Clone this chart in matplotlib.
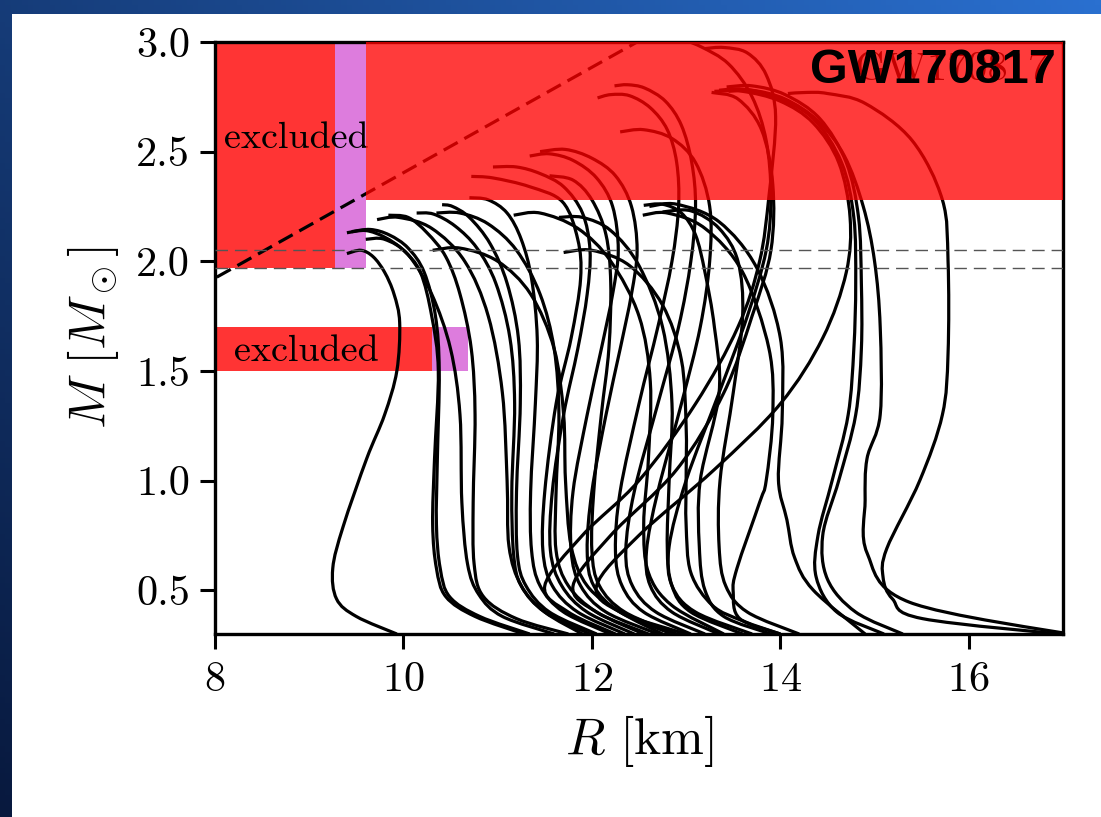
import numpy as np
import matplotlib
matplotlib.use('Agg')
import matplotlib.pyplot as plt
from matplotlib.patches import Rectangle, PathPatch
from matplotlib.path import Path

plt.rcParams['font.family'] = 'cmr10'
plt.rcParams['mathtext.fontset'] = 'cm'
plt.rcParams['axes.formatter.use_mathtext'] = True

# mass-radius curves, one (R, M) list per equation of state
eos_R = [
    [9.93, 9.50, 9.29, 9.25, 9.36, 9.61, 9.80, 9.93, 9.96, 9.90, 9.80, 9.68, 9.55, 9.40],
    [11.34, 10.81, 10.49, 10.39, 10.35, 10.36, 10.38, 10.34, 10.22, 10.05, 9.85, 9.65, 9.45],
    [11.28, 10.76, 10.45, 10.35, 10.31, 10.33, 10.37, 10.30, 10.18, 10.00, 9.80, 9.60, 9.40],
    [11.75, 11.20, 10.85, 10.75, 10.74, 10.76, 10.72, 10.60, 10.45, 10.25, 10.05, 9.84],
    [11.98, 11.50, 11.25, 11.17, 11.15, 11.18, 11.13, 10.98, 10.78, 10.55, 10.32, 10.14],
    [12.05, 11.55, 11.30, 11.21, 11.20, 11.24, 11.22, 11.10, 10.92, 10.70, 10.52, 10.41],
    [11.90, 11.50, 11.25, 11.12, 11.10, 11.05, 10.90, 10.65, 10.30, 9.95, 9.72],
    [12.20, 11.70, 11.45, 11.36, 11.35, 11.40, 11.42, 11.36, 11.25, 11.10, 10.90, 10.70],
    [12.35, 11.85, 11.58, 11.48, 11.50, 11.62, 11.78, 11.88, 11.85, 11.69, 11.34, 10.95, 10.72],
    [12.45, 11.95, 11.68, 11.56, 11.58, 11.70, 11.85, 11.95, 11.98, 11.90, 11.70, 11.45, 11.20, 10.95],
    [12.70, 12.15, 11.88, 11.78, 11.80, 11.95, 12.10, 12.22, 12.28, 12.22, 12.05, 11.80, 11.55, 11.34],
    [12.85, 12.30, 12.02, 11.95, 12.00, 12.15, 12.30, 12.42, 12.48, 12.42, 12.25, 12.00, 11.72, 11.45],
    [12.90, 12.35, 12.08, 12.00, 12.02, 12.10, 12.18, 12.20, 12.15, 12.00, 11.80, 11.55],
    [12.75, 12.30, 11.95, 11.78, 11.72, 11.70, 11.60, 11.35, 11.00, 10.60, 10.31],
    [13.40, 12.85, 12.60, 12.55, 12.60, 12.62, 12.50, 12.20, 11.85, 11.45, 11.17],
    [14.00, 13.60, 13.28, 13.05, 13.00, 13.00, 13.00, 12.95, 12.75, 12.40, 12.00, 11.70],
    [13.05, 12.55, 12.32, 12.25, 12.30, 12.50, 12.70, 12.85, 12.92, 12.90, 12.80, 12.62, 12.40, 12.20, 12.06],
    [13.20, 12.68, 12.43, 12.36, 12.45, 12.70, 12.92, 13.05, 13.10, 13.06, 12.95, 12.78, 12.56, 12.38, 12.24],
    [13.90, 13.40, 13.20, 13.14, 13.15, 13.35, 13.30, 13.20, 13.10, 12.95, 12.75, 12.55],
    [14.00, 13.57, 13.50, 13.54, 13.78, 13.85, 13.92, 13.88, 13.60, 13.20, 12.80, 12.54],
    [14.90, 14.35, 14.15, 14.07, 13.98, 14.02, 14.00, 13.75, 13.35, 12.90, 12.61],
    [13.60, 13.05, 12.85, 12.82, 13.00, 13.35, 13.65, 13.85, 13.90, 13.85, 13.70, 13.45, 13.15, 12.90],
    [12.25, 11.75, 11.50, 11.90, 12.50, 13.10, 13.55, 13.78, 13.88, 13.95, 13.85, 13.65, 13.40, 13.20],
    [12.60, 12.05, 11.80, 12.20, 12.90, 13.40, 13.70, 13.90, 13.92, 13.80, 13.55, 13.27],
    [13.00, 12.30, 12.05, 12.50, 13.30, 14.00, 14.45, 14.70, 14.74, 14.62, 14.35, 14.00, 13.60, 13.30],
    [15.10, 14.60, 14.38, 14.40, 14.55, 14.72, 14.78, 14.80, 14.78, 14.65, 14.35, 13.95, 13.60, 13.35],
    [15.30, 14.80, 14.50, 14.45, 14.62, 14.80, 14.86, 14.86, 14.83, 14.70, 14.42, 14.05, 13.70, 13.43],
    [17.20, 15.37, 14.92, 14.90, 14.92, 15.06, 15.06, 15.00, 14.88, 14.68, 14.40, 14.05, 13.70, 13.45],
    [17.20, 15.51, 15.19, 15.09, 15.13, 15.48, 15.72, 15.78, 15.78, 15.72, 15.40, 14.90, 14.50, 14.28, 14.08],
    [13.70, 13.10, 12.85, 12.80, 12.82, 12.85, 12.75, 12.50, 12.20, 11.90, 11.65],
    [14.20, 13.65, 13.42, 13.35, 13.36, 13.50, 13.60, 13.55, 13.35, 13.05, 12.75],
    [11.60, 11.05, 10.80, 10.68, 10.62, 10.60, 10.50, 10.30, 10.05, 9.80, 9.60],
    [12.55, 12.05, 11.75, 11.62, 11.62, 11.65, 11.60, 11.45, 11.20, 10.90, 10.60, 10.35],
    [13.35, 12.85, 12.62, 12.58, 12.70, 12.95, 13.15, 13.25, 13.25, 13.10, 12.85, 12.55, 12.30],
]
eos_M = [
    [0.30, 0.38, 0.46, 0.60, 0.79, 1.10, 1.30, 1.50, 1.72, 1.85, 1.95, 2.02, 2.05, 2.035],
    [0.30, 0.38, 0.47, 0.60, 0.80, 1.10, 1.50, 1.75, 1.95, 2.06, 2.12, 2.145, 2.135],
    [0.30, 0.38, 0.47, 0.60, 0.80, 1.10, 1.50, 1.75, 1.95, 2.05, 2.11, 2.14, 2.13],
    [0.30, 0.37, 0.47, 0.62, 0.90, 1.30, 1.60, 1.85, 2.02, 2.13, 2.20, 2.21],
    [0.30, 0.40, 0.52, 0.66, 0.95, 1.35, 1.65, 1.90, 2.06, 2.16, 2.215, 2.22],
    [0.30, 0.40, 0.52, 0.66, 0.95, 1.35, 1.65, 1.90, 2.08, 2.20, 2.25, 2.258],
    [0.30, 0.40, 0.52, 0.70, 1.00, 1.40, 1.75, 2.00, 2.15, 2.20, 2.19],
    [0.30, 0.40, 0.52, 0.68, 0.95, 1.35, 1.65, 1.92, 2.10, 2.22, 2.28, 2.29],
    [0.30, 0.40, 0.52, 0.68, 0.95, 1.35, 1.65, 1.92, 2.10, 2.27, 2.34, 2.38, 2.387],
    [0.30, 0.40, 0.52, 0.68, 0.95, 1.30, 1.60, 1.85, 2.05, 2.22, 2.34, 2.40, 2.43, 2.43],
    [0.30, 0.40, 0.52, 0.68, 0.95, 1.30, 1.60, 1.85, 2.05, 2.25, 2.38, 2.46, 2.49, 2.48],
    [0.30, 0.40, 0.52, 0.68, 0.95, 1.30, 1.60, 1.85, 2.05, 2.25, 2.39, 2.47, 2.51, 2.50],
    [0.30, 0.40, 0.52, 0.68, 0.95, 1.30, 1.60, 1.90, 2.12, 2.28, 2.37, 2.39],
    [0.30, 0.40, 0.52, 0.70, 1.00, 1.30, 1.60, 1.85, 2.00, 2.06, 2.05],
    [0.30, 0.43, 0.58, 0.80, 1.10, 1.45, 1.75, 2.00, 2.15, 2.22, 2.21],
    [0.30, 0.36, 0.43, 0.58, 0.80, 1.00, 1.25, 1.55, 1.80, 1.98, 2.05, 2.04],
    [0.30, 0.40, 0.52, 0.68, 0.95, 1.35, 1.70, 2.00, 2.25, 2.45, 2.60, 2.70, 2.755, 2.76, 2.745],
    [0.30, 0.40, 0.52, 0.68, 0.95, 1.35, 1.70, 2.00, 2.25, 2.45, 2.62, 2.73, 2.79, 2.805, 2.80],
    [0.30, 0.38, 0.50, 0.70, 1.00, 1.40, 1.70, 1.95, 2.12, 2.22, 2.26, 2.255],
    [0.30, 0.37, 0.49, 0.60, 0.90, 1.00, 1.30, 1.60, 1.95, 2.15, 2.22, 2.21],
    [0.30, 0.50, 0.65, 0.82, 1.00, 1.30, 1.65, 1.97, 2.18, 2.26, 2.25],
    [0.30, 0.40, 0.52, 0.70, 1.00, 1.40, 1.75, 2.05, 2.30, 2.55, 2.75, 2.90, 2.98, 3.02],
    [0.30, 0.40, 0.52, 0.75, 1.00, 1.35, 1.70, 2.00, 2.30, 2.66, 2.85, 2.95, 2.975, 2.97],
    [0.30, 0.40, 0.52, 0.75, 1.05, 1.40, 1.75, 2.05, 2.35, 2.60, 2.74, 2.77],
    [0.30, 0.40, 0.52, 0.75, 1.05, 1.35, 1.65, 1.95, 2.20, 2.45, 2.63, 2.73, 2.775, 2.775],
    [0.30, 0.40, 0.56, 0.75, 1.00, 1.30, 1.60, 1.90, 2.20, 2.45, 2.65, 2.75, 2.785, 2.78],
    [0.30, 0.40, 0.55, 0.75, 1.00, 1.30, 1.60, 1.90, 2.20, 2.45, 2.65, 2.76, 2.80, 2.795],
    [0.29, 0.445, 0.67, 0.91, 1.10, 1.30, 1.70, 2.00, 2.25, 2.48, 2.64, 2.74, 2.78, 2.775],
    [0.29, 0.37, 0.46, 0.56, 0.69, 1.00, 1.30, 1.58, 2.00, 2.28, 2.55, 2.72, 2.765, 2.77, 2.765],
    [0.30, 0.40, 0.52, 0.70, 1.00, 1.35, 1.70, 1.98, 2.14, 2.20, 2.20],
    [0.30, 0.40, 0.52, 0.70, 1.00, 1.40, 1.75, 2.00, 2.15, 2.23, 2.225],
    [0.30, 0.38, 0.48, 0.62, 0.90, 1.30, 1.60, 1.85, 2.03, 2.10, 2.10],
    [0.30, 0.40, 0.52, 0.68, 0.95, 1.30, 1.60, 1.85, 2.05, 2.17, 2.22, 2.22],
    [0.30, 0.40, 0.52, 0.68, 0.95, 1.35, 1.70, 2.00, 2.25, 2.45, 2.56, 2.60, 2.59],
]

# constraint boxes: (R_min, R_max, M_min, M_max)
excl_red = [(8.0, 9.27, 1.97, 3.0), (8.0, 10.30, 1.50, 1.70)]
excl_violet = [(9.27, 9.60, 1.97, 3.0), (10.30, 10.68, 1.50, 1.70)]
gw_box = (9.60, 17.0, 2.28, 3.0)
causal_R = [7.8, 13.0]
causal_M = [1.875, 3.125]
psr_M = [1.97, 2.05]


def smooth_path(R, M):
    # cubic Bezier through the read points (Catmull-Rom tangents)
    p = np.column_stack([R, M])
    ext = np.vstack([p[0], p, p[-1]])
    verts = [p[0]]
    codes = [Path.MOVETO]
    for i in range(len(p) - 1):
        c1 = p[i] + (ext[i + 2] - ext[i]) / 6
        c2 = p[i + 1] - (ext[i + 3] - ext[i + 1]) / 6
        verts += [c1, c2, p[i + 1]]
        codes += [Path.CURVE4] * 3
    return Path(verts, codes)


W, H = 1101, 817
fig = plt.figure(figsize=(W / 100, H / 100), dpi=100)

# slide background: blue frame on the left and top, white page
bg = fig.add_axes([0, 0, 1, 1], zorder=-10)
bg.axis('off')
xx, yy = np.meshgrid(np.linspace(0, 1, 200), np.linspace(0, 1, 150))
t = 0.6 * xx + 0.4 * (1 - yy)
dark = np.array([8, 25, 62]) / 255
light = np.array([42, 112, 208]) / 255
img = dark + t[..., None] * (light - dark)
bg.imshow(img, extent=[0, 1, 0, 1], aspect='auto', origin='upper')
bg.set_xlim(0, 1)
bg.set_ylim(0, 1)
fig.patches.append(Rectangle((12 / W, 0), 1, 1 - 14 / H, transform=fig.transFigure,
                             facecolor='white', edgecolor='none', zorder=-5))

ax = fig.add_axes([215 / W, 1 - 634 / H, 848 / W, 592 / H])
ax.set_facecolor('white')

for (r0, r1, m0, m1) in excl_red:
    ax.add_patch(Rectangle((r0, m0), r1 - r0, m1 - m0, facecolor='#ff3434',
                           edgecolor='none', zorder=1))
for (r0, r1, m0, m1) in excl_violet:
    ax.add_patch(Rectangle((r0, m0), r1 - r0, m1 - m0, facecolor='#dd7cdd',
                           edgecolor='none', zorder=1))

for R, M in zip(eos_R, eos_M):
    ax.add_patch(PathPatch(smooth_path(R, M), facecolor='none', edgecolor='black',
                           lw=2.3, zorder=2))

ax.plot(causal_R, causal_M, color='black', lw=2.3, ls=(0, (5, 2.4)), zorder=3)
for m in psr_M:
    ax.axhline(m, color='#555555', lw=1.0, ls=(0, (9, 5)), zorder=3)

ax.text(16.85, 2.87, 'GW170817', color='black', fontsize=29, ha='right', va='center',
        zorder=3.5)
r0, r1, m0, m1 = gw_box
ax.add_patch(Rectangle((r0, m0), r1 - r0, m1 - m0, facecolor='red', alpha=0.77,
                       edgecolor='none', zorder=4))
ax.text(16.92, 2.87, 'GW170817', color='black', fontsize=35, ha='right', va='center',
        family='Liberation Sans', fontweight='bold', zorder=5)

ax.text(8.1, 2.56, 'excluded', fontsize=27.5, va='center', ha='left', zorder=3)
ax.text(8.2, 1.59, 'excluded', fontsize=27.5, va='center', ha='left', zorder=3)

ax.set_xlim(8, 17)
ax.set_ylim(0.3, 3.0)
ax.set_xticks([8, 10, 12, 14, 16])
ax.set_yticks([0.5, 1.0, 1.5, 2.0, 2.5, 3.0])
ax.set_yticklabels(['0.5', '1.0', '1.5', '2.0', '2.5', '3.0'])
ax.tick_params(direction='out', length=11, width=2.2, labelsize=30.5)
ax.tick_params(axis='x', pad=9)
ax.tick_params(axis='y', pad=7)
for s in ax.spines.values():
    s.set_linewidth(2.4)

ax.set_xlabel(r'$R\ [\mathrm{km}]$', fontsize=37, labelpad=10)
ax.set_ylabel(r'$M\ [M_\odot]$', fontsize=37, labelpad=11)

fig.savefig('out.png', dpi=100)
